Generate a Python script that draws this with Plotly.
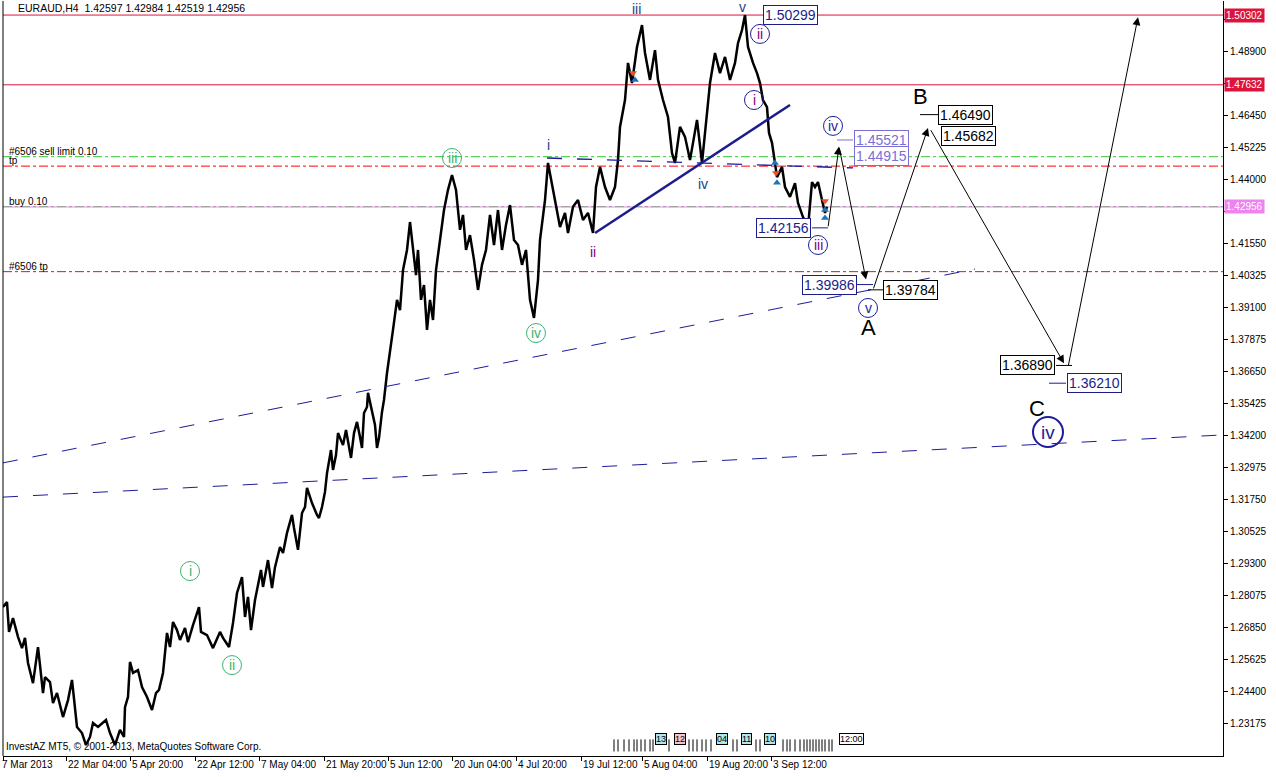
import plotly.graph_objects as go

# ---------------- data ----------------
bar = [3, 7, 9, 13, 18, 22, 25, 28, 33, 35, 38, 40, 43, 45, 50, 53, 57, 63, 68, 72,
       75, 77, 82, 86, 90, 93, 98, 106, 110, 115, 120, 124, 125, 128, 130, 133, 138, 142, 147, 152,
       156, 159, 163, 165, 167, 170, 173, 177, 180, 185, 188, 193, 199, 201, 207, 213, 220, 223, 229, 233,
       237, 242, 245, 248, 251, 255, 261, 263, 268, 272, 275, 280, 283, 287, 292, 294, 298, 302, 305, 307,
       312, 317, 319, 322, 325, 327, 331, 333, 336, 338, 343, 346, 348, 351, 354, 357, 360, 362, 364, 367,
       368, 372, 375, 377, 379, 382, 384, 387, 389, 393, 397, 400, 403, 407, 410, 413, 416, 418, 421, 424,
       427, 430, 433, 436, 440, 444, 448, 452, 456, 460, 463, 466, 470, 474, 478, 482, 486, 490, 494, 498,
       502, 506, 510, 514, 518, 522, 526, 530, 534, 538, 540, 545, 548, 553, 560, 565, 568, 573, 578, 583,
       588, 593, 596, 600, 605, 610, 615, 618, 620, 625, 628, 632, 637, 642, 645, 650, 655, 658, 663, 668,
       672, 675, 680, 685, 690, 697, 702, 707, 710, 715, 720, 725, 730, 735, 738, 742, 745, 748, 753, 757,
       760, 763, 767, 769, 772, 775, 777, 782, 785, 790, 795, 798, 803, 808, 812, 815, 818, 822, 825, 827]
close = [1.2764, 1.2783, 1.2669, 1.2722, 1.2650, 1.2607, 1.2646, 1.2550, 1.2473, 1.2535,
         1.2611, 1.2542, 1.2435, 1.2496, 1.2477, 1.2397, 1.2435, 1.2343, 1.2408, 1.2485,
         1.2381, 1.2305, 1.2282, 1.2236, 1.2267, 1.2320, 1.2305, 1.2332, 1.2282, 1.2236,
         1.2294, 1.2267, 1.2381, 1.2420, 1.2554, 1.2512, 1.2523, 1.2458, 1.2420, 1.2370,
         1.2435, 1.2447, 1.2512, 1.2588, 1.2665, 1.2611, 1.2707, 1.2676, 1.2638, 1.2684,
         1.2630, 1.2695, 1.2764, 1.2669, 1.2657, 1.2607, 1.2669, 1.2646, 1.2611, 1.2703,
         1.2818, 1.2879, 1.2726, 1.2803, 1.2676, 1.2791, 1.2906, 1.2841, 1.2944, 1.2837,
         1.2917, 1.2994, 1.2971, 1.3048, 1.3117, 1.3067, 1.2983, 1.3124, 1.3147, 1.3220,
         1.3162, 1.3117, 1.3105, 1.3147, 1.3205, 1.3277, 1.3365, 1.3289, 1.3346, 1.3430,
         1.3384, 1.3442, 1.3404, 1.3335, 1.3430, 1.3473, 1.3415, 1.3373, 1.3507, 1.3530,
         1.3584, 1.3511, 1.3461, 1.3373, 1.3411, 1.3511, 1.3557, 1.3660, 1.3710, 1.3825,
         1.3940, 1.3901, 1.4054, 1.4131, 1.4238, 1.4131, 1.4035, 1.4131, 1.3940, 1.3997,
         1.3825, 1.3940, 1.3863, 1.4054, 1.4169, 1.4284, 1.4361, 1.4418, 1.4361, 1.4208,
         1.4265, 1.4131, 1.4188, 1.4093, 1.3978, 1.4074, 1.4131, 1.4265, 1.4150, 1.4284,
         1.4131, 1.4227, 1.4303, 1.4169, 1.4150, 1.4074, 1.4131, 1.3940, 1.3871, 1.4016,
         1.4169, 1.4322, 1.4464, 1.4361, 1.4219, 1.4273, 1.4196, 1.4296, 1.4322, 1.4246,
         1.4273, 1.4196, 1.4372, 1.4449, 1.4372, 1.4322, 1.4372, 1.4475, 1.4602, 1.4705,
         1.4847, 1.4770, 1.4908, 1.4992, 1.4885, 1.4782, 1.4896, 1.4782, 1.4705, 1.4640,
         1.4502, 1.4464, 1.4602, 1.4564, 1.4475, 1.4629, 1.4464, 1.4655, 1.4770, 1.4885,
         1.4808, 1.4870, 1.4782, 1.4847, 1.4923, 1.4973, 1.5030, 1.4908, 1.4847, 1.4808,
         1.4770, 1.4705, 1.4678, 1.4579, 1.4541, 1.4464, 1.4410, 1.4449, 1.4372, 1.4334,
         1.4387, 1.4311, 1.4257, 1.4216, 1.4391, 1.4372, 1.4391, 1.4322, 1.4273, 1.4296]

title_text = "EURAUD,H4  1.42597 1.42984 1.42519 1.42956"
copyright_text = "InvestAZ MT5, \u00a9 2001-2013, MetaQuotes Software Corp."

date_ticks = [3, 66, 130, 195, 259, 324, 388, 452, 516, 581, 642, 707, 771]
date_labels = ["7 Mar 2013", "22 Mar 04:00", "5 Apr 20:00", "22 Apr 12:00", "7 May 04:00",
               "21 May 20:00", "5 Jun 12:00", "20 Jun 04:00", "4 Jul 20:00", "19 Jul 12:00",
               "5 Aug 04:00", "19 Aug 20:00", "3 Sep 12:00"]

price_ticks = [round(1.23175 + 0.01225 * k, 5) for k in range(23)]
hidden_ticks = [1.50125, 1.47675, 1.42775]   # covered by highlighted price boxes

# horizontal levels
red_levels = [1.50302, 1.47632]
sell_limit = 1.4488
tp_level = 1.4452
buy_level = 1.4297
tp2_level = 1.4048
last_price = 1.42956

# trend lines: (x0, p0, x1, p1)
trend_solid = (595, 1.4196, 790, 1.4686)
trend_dash1 = (3, 1.3316, 975, 1.4058)
trend_dash2 = (3, 1.3185, 1223, 1.3423)
trend_dash3 = (547, 1.4483, 853, 1.4445)

# projected wave path (arrows)
wave_x = [828, 839, 866, 873, 928, 930, 1064, 1068, 1138]
wave_p = [1.4216, 1.4527, 1.4018, 1.3978, 1.4598, 1.4595, 1.3697, 1.3682, 1.5022]

# price boxes: text, x centre, stub x0, stub x1, colour
box_text = ["1.50299", "1.42156", "1.45521", "1.44915", "1.39986", "1.39784",
            "1.46490", "1.45682", "1.36890", "1.36210"]
box_x = [790, 783, 881, 881, 829, 910, 965, 968, 1027, 1094]
box_stub0 = [None, 812, 837, None, 857, 868, 920, None, 1056, 1049]
box_stub1 = [None, 828, 853, None, 873, 883, 938, None, 1072, 1066]
box_color = ["#1c1c8c", "#1c1c8c", "#7b6fd6", "#7b6fd6", "#1c1c8c", "#000000",
             "#000000", "#000000", "#000000", "#1c1c8c"]

# wave labels: text, x, price, style
lab_text = ["iii", "v", "ii", "i", "i", "iv", "ii", "iv", "iii", "v",
            "A", "B", "C", "iv", "iii", "iv", "i", "ii"]
lab_x = [636, 742, 760, 754, 548, 703, 593, 833, 818, 868,
         868, 920, 1037, 1048, 452, 536, 190, 232]
lab_p = [1.5053, 1.5062, 1.4958, 1.4705, 1.4533, 1.4384, 1.4123, 1.4606, 1.4150, 1.3909,
         1.3836, 1.4717, 1.3526, 1.3434, 1.4483, 1.3813, 1.2902, 1.2542]
lab_style = ["navy", "navy", "circ_purple", "circ_purple", "navy", "navy", "purple", "circ_navy",
             "circ_purple", "circ_navy", "big", "big", "big", "circ_big", "circ_green",
             "circ_green", "circ_green", "circ_green"]

# trade markers
mark_x = [633, 635, 775, 776, 777, 825, 825, 825]
mark_p = [1.4808, 1.4782, 1.4464, 1.4426, 1.4388, 1.4318, 1.4284, 1.4253]
mark_dir = ["down", "up", "up", "down", "up", "down", "up", "up"]

# calendar strip (bottom)
cal_lines = [614, 618, 624, 629, 634, 637, 641, 645, 650, 653, 669, 689, 693, 697, 702, 706, 711,
             733, 737, 756, 760, 783, 787, 790, 795, 800, 804, 807, 810, 813, 816, 819, 822, 825, 829, 832]
cal_box_x = [661, 680, 722, 746, 770]
cal_box_t = ["13", "12", "04", "11", "10"]
cal_box_c = ["#aee8ee", "#f7c4cc", "#aee8ee", "#aee8ee", "#aee8ee"]

# ---------------- figure ----------------
FONT = "Liberation Sans, Arial, sans-serif"
fig = go.Figure()

X0, X1 = 3, 1223
Y0, Y1 = 1.2194, 1.5084

shapes = []
annotations = []

def hline(p, color, dash, width=1):
    shapes.append(dict(type="line", xref="x", yref="y", x0=X0, x1=X1, y0=p, y1=p,
                       line=dict(color=color, dash=dash, width=width), layer="below"))

for p in red_levels:
    hline(p, "#dc143c", "solid")
hline(sell_limit, "#32c832", "dashdot")
hline(tp_level, "#ff0000", "dashdot")
hline(buy_level, "#32c832", "dashdot")
hline(last_price, "#ee82ee", "solid")
hline(tp2_level, "#b42828", "dashdot")

def seg(t, color, dash, width):
    shapes.append(dict(type="line", xref="x", yref="y", x0=t[0], y0=t[1], x1=t[2], y1=t[3],
                       line=dict(color=color, dash=dash, width=width)))

seg(trend_dash1, "#1c1c9c", "longdash", 1)
seg(trend_dash2, "#1c1c9c", "longdash", 1)
seg(trend_dash3, "#1c1c9c", "longdash", 1.3)
seg(trend_solid, "#1c1c8c", "solid", 2.5)

# level texts
for txt, p in [("#6506 sell limit 0.10", sell_limit), ("tp", tp_level),
               ("buy 0.10", buy_level), ("#6506 tp", tp2_level)]:
    annotations.append(dict(x=X0 + 4, y=p, xref="x", yref="y", text=txt, showarrow=False,
                            xanchor="left", yanchor="bottom", yshift=-2,
                            font=dict(family=FONT, size=10, color="black")))

# price series
fig.add_trace(go.Scatter(x=bar, y=close, mode="lines", line=dict(color="black", width=2.5),
                         hoverinfo="skip", showlegend=False))

# trade markers
fig.add_trace(go.Scatter(
    x=mark_x, y=mark_p, mode="markers", hoverinfo="skip", showlegend=False,
    marker=dict(symbol=["triangle-down" if d == "down" else "triangle-up" for d in mark_dir],
                color=["#e8532a" if d == "down" else "#1f74b8" for d in mark_dir], size=7)))

# projected wave arrows
pairs = [(0, 1), (1, 2), (3, 4), (5, 6), (7, 8)]
for a, b in pairs:
    annotations.append(dict(x=wave_x[b], y=wave_p[b], ax=wave_x[a], ay=wave_p[a],
                            xref="x", yref="y", axref="x", ayref="y", text="",
                            showarrow=True, arrowhead=2, arrowsize=1.6, arrowwidth=1,
                            arrowcolor="black"))

# price boxes
for t, x, s0, s1, c in zip(box_text, box_x, box_stub0, box_stub1, box_color):
    p = float(t)
    if s0 is not None:
        shapes.append(dict(type="line", xref="x", yref="y", x0=s0, x1=s1, y0=p, y1=p,
                           line=dict(color=c, width=1)))
    annotations.append(dict(x=x, y=p, xref="x", yref="y", text=t, showarrow=False,
                            font=dict(family=FONT, size=14, color=c),
                            bordercolor=c, borderwidth=1, borderpad=1, bgcolor="white"))

# wave labels
for t, x, p, st in zip(lab_text, lab_x, lab_p, lab_style):
    if st == "big":
        annotations.append(dict(x=x, y=p, xref="x", yref="y", text=t, showarrow=False,
                                font=dict(family=FONT, size=22, color="black")))
        continue
    if st.startswith("circ"):
        if st == "circ_big":
            r, lc, tc, lw, fs = 15, "#1c1c9c", "#1c1c9c", 2, 19
        elif st == "circ_green":
            r, lc, tc, lw, fs = 9.5, "#3cb371", "#3cb371", 1, 14
        elif st == "circ_purple":
            r, lc, tc, lw, fs = 9.5, "#1c1c9c", "#800080", 1, 14
        else:
            r, lc, tc, lw, fs = 9.5, "#1c1c9c", "#1c1c9c", 1, 14
        shapes.append(dict(type="circle", xref="x", yref="y", xsizemode="pixel",
                           ysizemode="pixel", xanchor=x, yanchor=p, x0=-r, x1=r, y0=-r, y1=r,
                           line=dict(color=lc, width=lw)))
        annotations.append(dict(x=x, y=p, xref="x", yref="y", text=t, showarrow=False,
                                font=dict(family=FONT, size=fs, color=tc)))
    else:
        col = "#800080" if st == "purple" else "#1c3c8c"
        annotations.append(dict(x=x, y=p, xref="x", yref="y", text=t, showarrow=False,
                                font=dict(family=FONT, size=14, color=col)))

# right axis highlighted price labels
for p, bg in [(red_levels[0], "#dc143c"), (red_levels[1], "#dc143c"), (last_price, "#ee82ee")]:
    annotations.append(dict(x=1, y=p, xref="paper", yref="y", text=f"{p:.5f}",
                            showarrow=False, xanchor="left", xshift=1,
                            font=dict(family=FONT, size=10, color="white"),
                            bgcolor=bg, borderpad=1))

# date labels
for x, t in zip(date_ticks, date_labels):
    annotations.append(dict(x=x, y=0, xref="x", yref="paper", text=t, showarrow=False,
                            xanchor="left", yanchor="top", xshift=-3 if x == 3 else 0, yshift=-1,
                            font=dict(family=FONT, size=10, color="black")))

# title and copyright
annotations.append(dict(x=0, y=1, xref="paper", yref="paper", text=title_text, showarrow=False,
                        xanchor="left", yanchor="top", xshift=13, yshift=1,
                        font=dict(family=FONT, size=10.5, color="black")))
annotations.append(dict(x=0, y=0, xref="paper", yref="paper", text=copyright_text,
                        showarrow=False, xanchor="left", yanchor="bottom", xshift=1, yshift=2,
                        font=dict(family=FONT, size=10, color="black")))

# calendar strip
for x in cal_lines:
    shapes.append(dict(type="line", xref="x", yref="paper", x0=x, x1=x, y0=0.006, y1=0.022,
                       line=dict(color="black", width=1)))
for x, t, c in zip(cal_box_x, cal_box_t, cal_box_c):
    annotations.append(dict(x=x, y=0.014, xref="x", yref="paper", text=t, showarrow=False,
                            font=dict(family=FONT, size=9, color="black"), bgcolor=c,
                            bordercolor="black", borderwidth=1, borderpad=0))
annotations.append(dict(x=851, y=0.014, xref="x", yref="paper", text="12:00", showarrow=False,
                        font=dict(family=FONT, size=9, color="black"), bgcolor="white",
                        bordercolor="black", borderwidth=1, borderpad=0))

fig.update_layout(
    width=1276, height=777,
    margin=dict(l=3, r=53, t=1, b=21, autoexpand=False),
    paper_bgcolor="white", plot_bgcolor="white",
    showlegend=False, hovermode=False,
    shapes=shapes, annotations=annotations,
    xaxis=dict(range=[X0, X1], tickvals=date_ticks, ticks="outside", ticklen=4,
               tickcolor="black", showticklabels=False, showgrid=False, zeroline=False,
               showline=True, linecolor="black", linewidth=1, mirror=False, fixedrange=True,
               automargin=False),
    yaxis=dict(range=[Y0, Y1], side="right", tickvals=price_ticks,
               ticktext=["" if v in hidden_ticks else f"{v:.5f}" for v in price_ticks],
               ticks="outside", ticklen=4,
               tickcolor="black", tickfont=dict(family=FONT, size=10, color="black"),
               showgrid=False, zeroline=False, showline=True, linecolor="black", linewidth=1,
               fixedrange=True, automargin=False),
)
# left frame line
fig.add_shape(type="line", xref="paper", yref="paper", x0=0, x1=0, y0=0, y1=1,
              line=dict(color="black", width=1))

fig.write_html("out.html", config={"displayModeBar": False},
               post_script="document.body.style.margin='0';document.body.style.padding='0';")
